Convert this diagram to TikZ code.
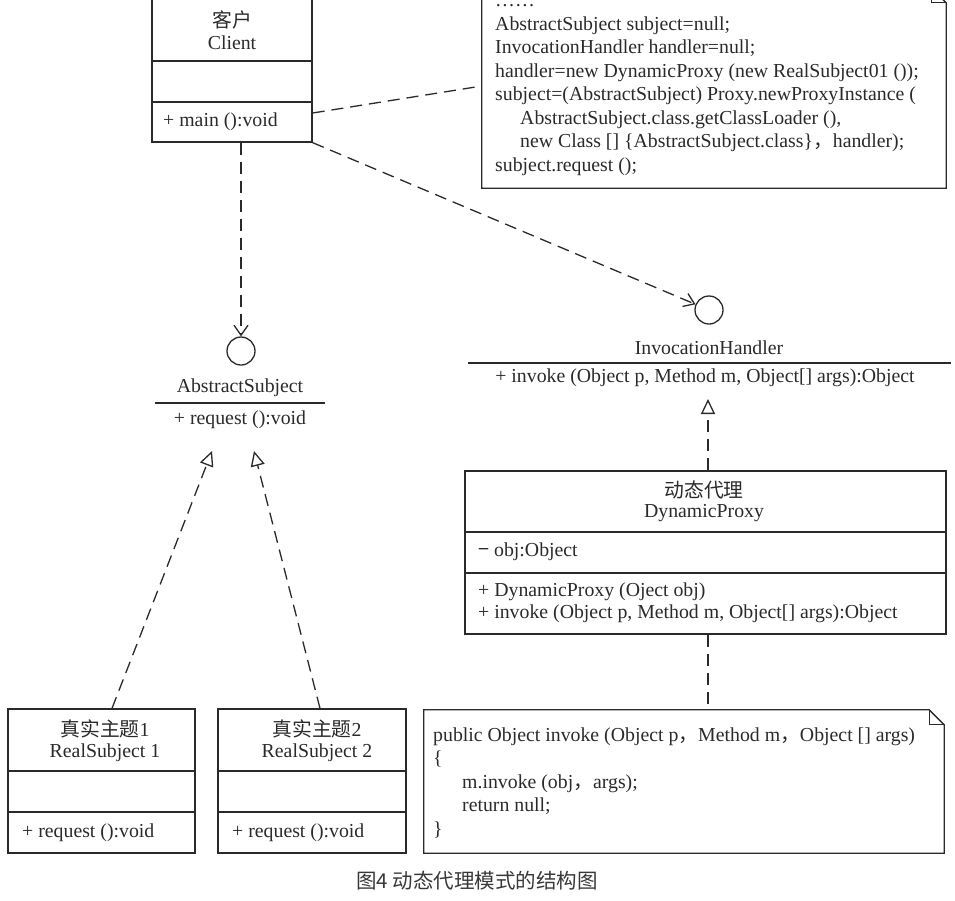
\documentclass[tikz,border=0pt]{standalone}
\usepackage{fontspec}
\setmainfont{Liberation Serif}
\newfontfamily\cjk{Noto Sans CJK SC}
\usetikzlibrary{arrows.meta,calc}
\definecolor{ink}{HTML}{2A2A2A}
\definecolor{capgray}{HTML}{383838}
\begin{document}
\begin{tikzpicture}[x=1pt,y=-1pt,
  every node/.style={text=ink, font=\fontsize{19.8}{23.5}\selectfont, inner sep=0pt},
  ln/.style={draw=ink, line width=1.3pt},
  dsh/.style={draw=ink, line width=1.3pt, dash pattern=on 12pt off 7pt},
  boxshape/.style={draw=ink, line width=1.3pt, rectangle, inner sep=0pt},
  plain/.style={rectangle, inner sep=0pt},
  iface/.style={circle, draw=ink, line width=1.3pt, minimum size=28pt, inner sep=0pt},
  usetip/.style={-{Straight Barb[length=10pt,width=14pt]}},
  realtip/.style={-{Triangle[open,length=15pt,width=14pt]}},
  codetext/.style={anchor=north west, align=left}
]
\useasboundingbox (0,0) rectangle (955,900);
\clip (0,0) rectangle (955,900);

% ---------- Client ----------
\node[boxshape, minimum width=160pt, minimum height=143pt] (client) at (232,70.5) {};
\draw[ln] (client.west |- 0,61) -- (client.east |- 0,61);
\draw[ln] (client.west |- 0,102) -- (client.east |- 0,102);
\node (clientcn) at (232,20) {{\cjk 客户}};
\node (clientname) at (232,43) {Client};
\node[anchor=west] (clientm) at (163,122) {+ main ():void};

% ---------- Note 1 ----------
\node[plain, minimum width=464pt, minimum height=200pt] (note1) at (714,88) {};
\draw[ln] (note1.north west) -- ($(note1.north east)+(-15,0)$) -- ($(note1.north east)+(0,15)$) -- (note1.south east) -- (note1.south west) -- cycle;
\draw[ln] ($(note1.north east)+(-15,0)$) -- ($(note1.north east)+(-15,15)$) -- ($(note1.north east)+(0,15)$);
\node[anchor=base west] (note1dots) at (495,6.5) {……};
\node[codetext] (note1text) at (495,13.5) {\strut AbstractSubject subject=null;\\
InvocationHandler handler=null;\\
handler=new DynamicProxy (new RealSubject01 ());\\
subject=(AbstractSubject) Proxy.newProxyInstance (\\
\hspace*{25pt}AbstractSubject.class.getClassLoader (),\\
\hspace*{25pt}new Class [] \{AbstractSubject.class\}{\cjk ，}handler);\\
subject.request ();};

% ---------- AbstractSubject ----------
\node[iface] (asc) at (241,351) {};
\node (asname) at (240,388) {AbstractSubject};
\draw[ln] (155,403) -- (325,403);
\node (asm) at (240,420) {+ request ():void};

% ---------- InvocationHandler ----------
\node[iface] (ihc) at (709,310) {};
\node (ihname) at (709,348) {InvocationHandler};
\draw[ln] (468,363) -- (951,363);
\node (ihm) at (705,378) {+ invoke (Object p, Method m, Object[] args):Object};

% ---------- DynamicProxy ----------
\node[boxshape, minimum width=481pt, minimum height=163pt] (dp) at (705.5,552.5) {};
\draw[ln] (dp.west |- 0,532) -- (dp.east |- 0,532);
\draw[ln] (dp.west |- 0,573) -- (dp.east |- 0,573);
\node (dpcn) at (704,490) {{\cjk 动态代理}};
\node (dpname) at (704,513) {DynamicProxy};
\node[anchor=west] (dpattr) at (478,552) {{\cjk −} obj:Object};
\node[anchor=west] (dpm1) at (478,592) {+ DynamicProxy (Oject obj)};
\node[anchor=west] (dpm2) at (478,614) {+ invoke (Object p, Method m, Object[] args):Object};

% ---------- Note 2 ----------
\node[plain, minimum width=520pt, minimum height=143pt] (note2) at (684,781.5) {};
\draw[ln] (note2.north west) -- ($(note2.north east)+(-15,0)$) -- ($(note2.north east)+(0,15)$) -- (note2.south east) -- (note2.south west) -- cycle;
\draw[ln] ($(note2.north east)+(-15,0)$) -- ($(note2.north east)+(-15,15)$) -- ($(note2.north east)+(0,15)$);
\node[codetext] (note2text) at (433,724.5) {\strut public Object invoke (Object p{\cjk ，}Method m{\cjk ，}Object [] args)\\
\{\\
\hspace*{29pt}m.invoke (obj{\cjk ，}args);\\
\hspace*{29pt}return null;\\
\}};

% ---------- RealSubject 1 ----------
\node[boxshape, minimum width=187pt, minimum height=144pt] (rs1) at (101.5,781) {};
\draw[ln] (rs1.west |- 0,771) -- (rs1.east |- 0,771);
\draw[ln] (rs1.west |- 0,812) -- (rs1.east |- 0,812);
\node (rs1cn) at (105,729) {{\cjk 真实主题}1};
\node (rs1name) at (105,753) {RealSubject 1};
\node[anchor=west] (rs1m) at (22,833) {+ request ():void};

% ---------- RealSubject 2 ----------
\node[boxshape, minimum width=188pt, minimum height=144pt] (rs2) at (312,781) {};
\draw[ln] (rs2.west |- 0,771) -- (rs2.east |- 0,771);
\draw[ln] (rs2.west |- 0,812) -- (rs2.east |- 0,812);
\node (rs2cn) at (317,729) {{\cjk 真实主题}2};
\node (rs2name) at (317,753) {RealSubject 2};
\node[anchor=west] (rs2m) at (232,833) {+ request ():void};

% ---------- connectors ----------
\coordinate (ihtip) at (708,399);
\coordinate (t1) at (212,451);
\coordinate (t2) at (254,451);
\draw[dsh] (client.east |- 0,113) -- (note1.west |- 0,86);
\draw[dsh, usetip] (asc.north |- client.south) -- (asc.north);
\draw[dsh, usetip] (client.south east) -- (ihc);
\draw[dsh, realtip] (ihtip |- dp.north) -- (ihtip);
\draw[dsh] (ihtip |- dp.south) -- (ihtip |- note2.north);
\draw[dsh, realtip] ($(rs1.north)+(10.5,0)$) -- (t1);
\draw[dsh, realtip] ($(rs2.north)+(8,0)$) -- (t2);

% ---------- caption ----------
\node[font=\cjk\fontsize{20.5}{24}\selectfont, text=capgray] (caption) at (477,881) {图4 动态代理模式的结构图};
\end{tikzpicture}
\end{document}
